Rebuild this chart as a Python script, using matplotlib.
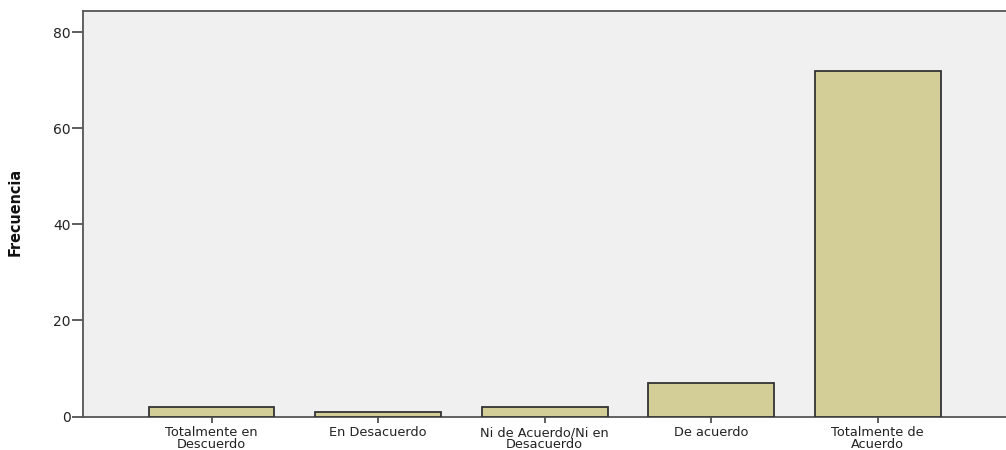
import matplotlib
matplotlib.use("Agg")
import matplotlib.pyplot as plt
import logging
logging.getLogger("matplotlib.font_manager").setLevel(logging.ERROR)

categories = ["Totalmente en\nDescuerdo", "En Desacuerdo", "Ni de Acuerdo/Ni en\nDesacuerdo",
              "De acuerdo", "Totalmente de\nAcuerdo"]
frecuencia = [2, 1, 2, 7, 72]
yticks = [0, 20, 40, 60, 80]

fig = plt.figure(figsize=(10.06, 4.5), dpi=100)
ax = fig.add_axes([83/1006, 1 - 416.5/450, 1 - 83/1006, (416.5 - 11)/450])
ax.set_facecolor("#F0F0F0")

x = list(range(len(categories)))
ax.bar(x, frecuencia, width=0.755, color="#D3CE97", edgecolor="#333333", linewidth=1.3, zorder=3)

ax.set_xlim(-0.772, 4.77)
ax.set_ylim(0, 84.4)
ax.set_yticks(yticks)
ax.set_xticks(x)
ax.set_xticklabels(categories, fontsize=9.3, color="#222222", linespacing=0.85,
                   family="DejaVu Sans")
ax.tick_params(axis="y", labelsize=10, length=8, width=1.2, pad=1, colors="#444444")
ax.tick_params(axis="x", length=4.5, width=1.2, pad=2.5, colors="#444444")
for lab in ax.get_xticklabels() + ax.get_yticklabels():
    lab.set_color("#222222")

for side in ["left", "bottom", "top"]:
    ax.spines[side].set_color("#555555")
    ax.spines[side].set_linewidth(1.3)
ax.spines["right"].set_visible(False)

ax.set_ylabel("Frecuencia", family="DejaVu Sans", fontstretch="condensed",
              fontweight="bold", fontsize=11.5, color="#111111")
ax.yaxis.set_label_coords(-0.0655, 0.505)

fig.savefig("out.png", dpi=100, facecolor="white")
